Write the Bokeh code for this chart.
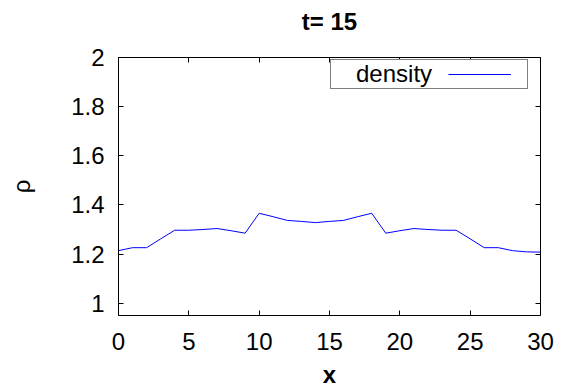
from bokeh.plotting import figure
from bokeh.models import (ColumnDataSource, FixedTicker, LinearAxis, Range1d,
                          NumeralTickFormatter, Legend, LegendItem,
                          CustomLabelingPolicy)
from bokeh.embed import file_html
from bokeh.resources import INLINE

# ---- data ----
x_vals = list(range(0, 31))
density = [1.214, 1.226, 1.226, 1.262, 1.297, 1.297, 1.300, 1.304, 1.295, 1.285,
           1.366, 1.352, 1.337, 1.333, 1.328, 1.333, 1.337, 1.352, 1.366, 1.285,
           1.295, 1.304, 1.300, 1.297, 1.297, 1.262, 1.226, 1.226, 1.214, 1.209,
           1.208]
x_ticks = [0, 5, 10, 15, 20, 25, 30]
y_ticks = [1.0, 1.2, 1.4, 1.6, 1.8, 2.0]
title_text = "t= 15"
x_label = "x"
y_label = "ρ"
series_name = "density"

FONT = "Liberation Sans"
FS = "24px"

src = ColumnDataSource(dict(x=x_vals, y=density))

p = figure(width=565, height=390, output_backend="svg", toolbar_location=None,
           x_range=Range1d(0, 30), y_range=Range1d(0.95, 2.0),
           min_border_left=118, min_border_right=25, min_border_top=57,
           min_border_bottom=75, x_axis_location=None, y_axis_location=None)

p.background_fill_color = "white"
p.border_fill_color = "white"
p.outline_line_color = "black"
p.outline_line_width = 1
p.xgrid.visible = False
p.ygrid.visible = False

p.title.text = title_text
p.title.align = "center"
p.title.vertical_align = "bottom"
p.title.text_font = FONT
p.title.text_font_size = FS
p.title.text_font_style = "bold"
p.title.text_color = "black"
p.title.standoff = 0

no_labels = CustomLabelingPolicy(
    code="for (let i = 0; i < indices.size; i++) { indices.unset(i) }\nreturn indices")


def style_axis(ax, labels=True):
    ax.major_tick_in = 5
    ax.major_tick_out = 0
    ax.minor_tick_line_color = None
    ax.axis_line_color = None
    ax.major_tick_line_color = "black"
    ax.major_tick_line_width = 1
    ax.major_label_text_font = FONT
    ax.major_label_text_color = "black"
    if labels:
        ax.major_label_text_font_size = FS
    else:
        ax.major_label_text_font_size = "0px"
        ax.major_label_policy = no_labels
        ax.major_label_standoff = 0


xb = LinearAxis(ticker=FixedTicker(ticks=x_ticks), axis_label=x_label)
style_axis(xb)
xb.major_label_standoff = 17
xb.axis_label_text_font = FONT
xb.axis_label_text_font_size = FS
xb.axis_label_text_font_style = "bold"
xb.axis_label_text_color = "black"
xb.axis_label_standoff = 8
p.add_layout(xb, "below")

yl = LinearAxis(ticker=FixedTicker(ticks=y_ticks), axis_label=y_label,
                formatter=NumeralTickFormatter(format="0.[0]"))
style_axis(yl)
yl.major_label_standoff = 14
yl.axis_label_text_font = FONT
yl.axis_label_text_font_size = FS
yl.axis_label_text_font_style = "normal"
yl.axis_label_text_color = "black"
yl.axis_label_standoff = 33
p.add_layout(yl, "left")

# mirrored ticks on top and right (gnuplot style)
xt = LinearAxis(ticker=FixedTicker(ticks=x_ticks))
style_axis(xt, labels=False)
p.add_layout(xt, "above")

# invisible spacer between frame and title
spacer = LinearAxis(ticker=FixedTicker(ticks=x_ticks))
style_axis(spacer, labels=False)
spacer.major_tick_in = 0
spacer.major_tick_out = 23
spacer.major_tick_line_color = None
p.add_layout(spacer, "above")

yr = LinearAxis(ticker=FixedTicker(ticks=y_ticks))
style_axis(yr, labels=False)
p.add_layout(yr, "right")

r = p.line("x", "y", source=src, line_color="#0000ff", line_width=1)

# gnuplot-style key: boxed label first, then the line sample
key_box = Legend(items=[LegendItem(label=series_name, renderers=[])],
                 location=(212, 226))
key_box.border_line_color = "black"
key_box.border_line_width = 1
key_box.background_fill_color = "white"
key_box.background_fill_alpha = 1.0
key_box.label_text_font = FONT
key_box.label_text_font_size = FS
key_box.label_text_color = "black"
key_box.glyph_width = 25
key_box.label_standoff = 0
key_box.label_width = 171
key_box.padding = 0
key_box.margin = 0
key_box.spacing = 0
key_box.label_height = 18
key_box.glyph_height = 18
p.add_layout(key_box, "center")

key_line = Legend(items=[LegendItem(label="", renderers=[r])],
                  location=(330, 232))
key_line.border_line_color = None
key_line.background_fill_alpha = 0.0
key_line.label_text_font = FONT
key_line.label_text_font_size = FS
key_line.glyph_width = 63
key_line.label_standoff = 0
key_line.label_width = 0
key_line.padding = 0
key_line.margin = 0
key_line.spacing = 0
key_line.label_height = 18
key_line.glyph_height = 18
p.add_layout(key_line, "center")

open("out.html", "w").write(file_html(p, INLINE))
